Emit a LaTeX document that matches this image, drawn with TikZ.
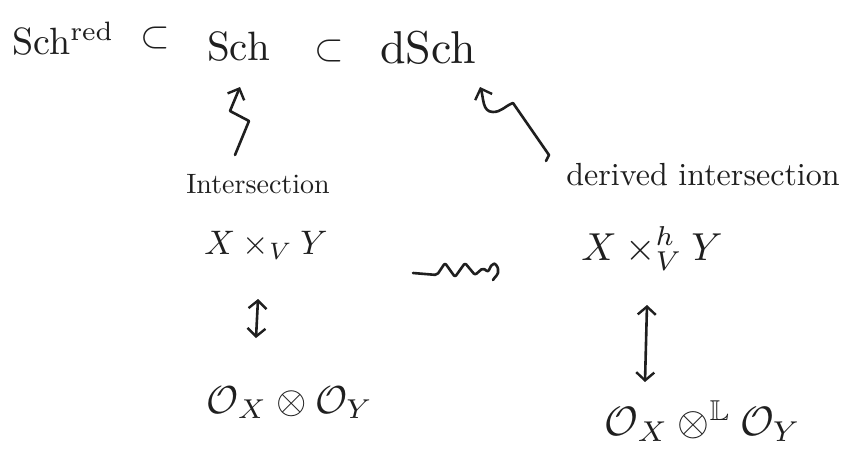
\documentclass[tikz,border=0pt]{standalone}
\usepackage{graphicx}
\usepackage{amsmath,amssymb}
\usetikzlibrary{arrows.meta}
\newcommand{\bigsz}[1]{\scalebox{3.8}{#1}}
\newcommand{\midsz}[1]{\scalebox{3.4}{#1}}
\newcommand{\labsz}[2]{\scalebox{#1}{#2}}
\begin{document}
\begin{tikzpicture}[x=1pt,y=-1pt,
  ink/.style={draw=black!88, line width=2.6pt, line cap=round, line join=round},
  barb/.style={-{Straight Barb[length=9pt,width=18pt,line width=2.4pt]}},
  dbarb/.style={{Straight Barb[length=8pt,width=18pt,line width=2.4pt]}-{Straight Barb[length=8pt,width=18pt,line width=2.4pt]}},
  lbl/.style={inner sep=0pt, text=black!88}]
\useasboundingbox[fill=white] (0,0) rectangle (849,466);

% top row
\node[lbl,anchor=base west] (schred) at (12,54) {\bigsz{Sch$^{\mathrm{red}}$}};
\node[lbl] (sub1) at (155,38) {\bigsz{$\subset$}};
\node[lbl,anchor=base west] (sch) at (207,60) {\labsz{4.1}{Sch}};
\node[lbl] (sub2) at (329,51) {\bigsz{$\subset$}};
\node[lbl,anchor=base west] (dsch) at (380,63) {\labsz{4.6}{dSch}};

% labels
\node[lbl,anchor=base] (inter) at (258,193) {\labsz{2.8}{Intersection}};
\node[lbl,anchor=base] (dinter) at (703,185) {\labsz{3.2}{derived intersection}};

% fibre products
\node[lbl,anchor=base] (fp) at (266,254) {\midsz{$X\times_V Y$}};
\node[lbl,anchor=base] (hfp) at (652,260) {\labsz{3.9}{$X\times^h_V Y$}};

% tensor products
\node[lbl,anchor=base] (tens) at (290,413) {\labsz{3.9}{$\mathcal{O}_X\otimes\mathcal{O}_Y$}};
\node[lbl,anchor=base] (ltens) at (703,435) {\labsz{4.1}{$\mathcal{O}_X\otimes^{\mathbb{L}}\mathcal{O}_Y$}};

% lightning arrow: Intersection -> Sch
\coordinate (l0) at (235,155);
\coordinate (l1) at (249,121);
\coordinate (l2) at (230,111);
\coordinate (l3) at (240,87);
\draw[ink,barb] (l0) -- (l1) -- (l2) -- (l3);

% wiggly arrow: derived intersection -> dSch
\coordinate (r0) at (546,161);
\coordinate (r1) at (549,155);
\coordinate (r2) at (513,103);
\coordinate (r3) at (493,112);
\coordinate (r4) at (480,87);
\draw[ink,barb] (r0) -- (r1) -- (r2) to[out=-160,in=0] (r3) to[out=180,in=-70] (r4);

% leadsto between fibre products
\coordinate (w0) at (413,273);
\coordinate (w1) at (493,280);
\draw[ink,rounded corners=2pt] (w0) -- (437,275) -- (445,263) -- (455,277) -- (465,263) -- (475,275) -- (483,268) -- (488,272) -- (492,264)
  to[out=10,in=90] (498,271) to[out=-90,in=60] (w1);

% vertical double arrows
\coordinate (v0) at (258,299);
\coordinate (v1) at (256,338);
\draw[ink,dbarb] (v0) -- (v1);
\coordinate (v2) at (647,305);
\coordinate (v3) at (645,382);
\draw[ink,dbarb] (v2) -- (v3);
\end{tikzpicture}
\end{document}
